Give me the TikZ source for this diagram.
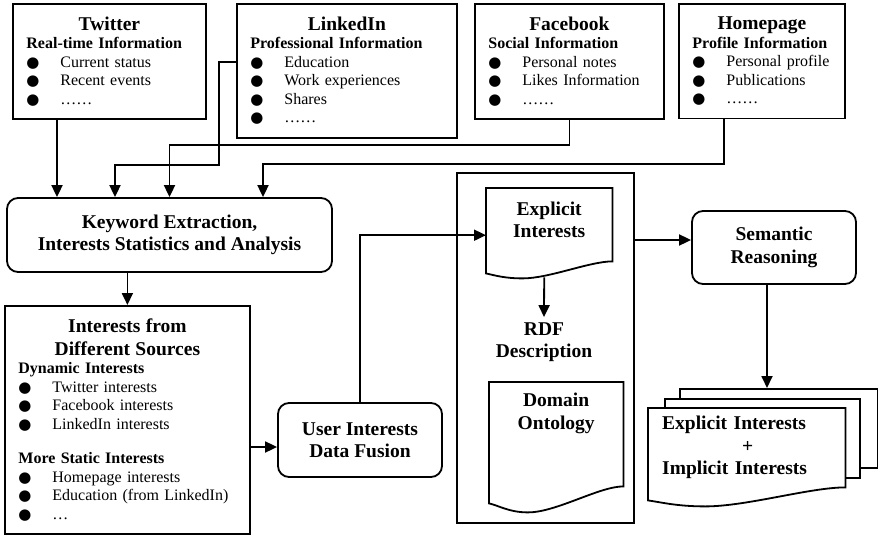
\documentclass[tikz,border=0pt]{standalone}
\usepackage{fontspec}
\setmainfont{Liberation Serif}
\newfontfamily\symfont{DejaVu Sans}
\usetikzlibrary{arrows.meta,calc}
\newcommand{\bigfont}{\fontsize{19.5}{22.5}\selectfont\bfseries}
\newcommand{\listfont}{\fontsize{16}{18.5}\selectfont}
\newcommand{\dotmark}{{\symfont\fontsize{15}{15}\selectfont ●}}
\newcommand{\itm}[1]{\makebox[34pt][l]{\dotmark}#1}
\newcommand{\srctitle}[1]{{\centering\bigfont #1\par}}
% outline of a document sheet: node, right drop, left drop, trough
\newcommand{\docoutline}[4]{%
  \draw[line width=1.8pt] (#1.north west) -- (#1.north east) -- ($(#1.south east)+(0,#2)$)
    .. controls ($(#1.south west)!0.82!(#1.south east)+(0,#2)$) and ($(#1.south west)!0.5!(#1.south east)+(0,#4)$)
    .. ($(#1.south west)!0.29!(#1.south east)+(0,#4)$)
    .. controls ($(#1.south west)!0.15!(#1.south east)+(0,#4)$) and ($(#1.south west)!0.07!(#1.south east)+(0,#3+2)$)
    .. ($(#1.south west)+(0,#3)$) -- cycle;}
\tikzset{
  srcbox/.style={
    draw, line width=1.8pt, anchor=north west, inner xsep=0pt, inner ysep=13pt,
    font=\listfont, execute at begin node={\leftskip=13.5pt}
  },
  procbox/.style={
    draw, line width=1.8pt, rounded corners=11pt, minimum width=164pt,
    minimum height=74pt, align=center, font=\bigfont
  },
  docbox/.style={anchor=north west, align=center, font=\bigfont, inner sep=0pt},
  frame/.style={draw, line width=1.8pt},
  sheet/.style={draw, fill=white, line width=1.8pt, anchor=north west, minimum height=79pt},
  arr/.style={-{Triangle[length=12pt,width=11pt]}, line width=1.8pt}
}

\begin{document}
\begin{tikzpicture}[x=1pt,y=-1pt]
  \useasboundingbox (0,0) rectangle (878,538);

  \node[srcbox, text width=193pt] (twitter) at (12,3)
    {\srctitle{Twitter}\textbf{Real-time Information}\\
     \itm{Current status}\\ \itm{Recent events}\\ \itm{……}};
  \node[srcbox, text width=220pt] (linkedin) at (236,3)
    {\srctitle{LinkedIn}\textbf{Professional Information}\\
     \itm{Education}\\ \itm{Work experiences}\\ \itm{Shares}\\ \itm{……}};
  \node[srcbox, text width=189pt] (facebook) at (474,3)
    {\srctitle{Facebook}\textbf{Social Information}\\
     \itm{Personal notes}\\ \itm{Likes Information}\\ \itm{……}};
  \node[srcbox, text width=166pt] (homepage) at (678,3)
    {\srctitle{Homepage}\textbf{Profile Information}\\
     \itm{Personal profile}\\ \itm{Publications}\\ \itm{……}};

  \node[procbox, minimum width=325pt] (keyword) at (169.5,235)
    {Keyword Extraction,\\Interests Statistics and Analysis};

  \node[srcbox, text width=245pt] (interests) at (4,305)
    {\srctitle{Interests from\\Different Sources}\textbf{Dynamic Interests}\\
     \itm{Twitter interests}\\ \itm{Facebook interests}\\ \itm{LinkedIn interests}\\[16pt]
     \textbf{More Static Interests}\\
     \itm{Homepage interests}\\ \itm{Education (from LinkedIn)}\\ \itm{…}};

  \node[procbox] (fusion) at (360,440) {User Interests\\Data Fusion};

  \node[frame, minimum width=177pt, minimum height=350pt] (store) at (545.5,348) {};
  \node[docbox, minimum width=126pt, minimum height=63pt] (expl) at (486,188) {Explicit\\Interests};
  \docoutline{expl}{10}{22}{27}
  \node[font=\bigfont, align=center, inner sep=5pt] (rdf) at (544,342) {RDF\\Description};
  \node[docbox, minimum width=134pt, minimum height=62pt] (domain) at (489,382) {Domain\\Ontology};
  \docoutline{domain}{42}{59}{68}

  \node[procbox, minimum height=73pt] (semantic) at (774,247.5) {Semantic\\Reasoning};

  \node[sheet, minimum width=198pt] (sheet3) at (679,388) {};
  \node[sheet, minimum width=195pt] (sheet2) at (664,398) {};
  \node[docbox, fill=white, minimum width=197pt, minimum height=79pt, text width=169pt,
    align=left, inner xsep=14pt] (stackfront) at (648,408)
    {Explicit Interests\\\hspace*{80pt}+\\Implicit Interests};
  \docoutline{stackfront}{0}{13}{19}

  \coordinate (kw-in1) at ([xshift=-112.5pt]keyword.north);
  \coordinate (kw-in2) at ([xshift=-54.5pt]keyword.north);
  \coordinate (kw-in4) at ([xshift=93.5pt]keyword.north);
  \draw[arr] (twitter.south -| kw-in1) -- (kw-in1);
  \draw[arr] ($(linkedin.north west)+(0,59)$) -- ++(-17,0) |- ($(kw-in2)+(0,-32)$) -- (kw-in2);
  \draw[arr] (facebook.south) |- ($(keyword.north)+(0,-52)$) -- (keyword.north);
  \draw[arr] ([xshift=-38pt]homepage.south) |- ($(kw-in4)+(0,-33)$) -- (kw-in4);
  \draw[arr] (keyword.south -| interests.north) -- (interests.north);
  \coordinate (fus-in) at ($(fusion.west)+(0,7)$);
  \draw[arr] (interests.east |- fus-in) -- (fus-in);
  \draw[arr] (fusion.north) |- ($(expl.west)+(0,15.5)$);
  \draw[arr] ($(expl.south)+(-5,26)$) -- (rdf.north);
  \coordinate (sem-in) at ($(semantic.west)+(0,-7.5)$);
  \draw[arr] (store.east |- sem-in) -- (sem-in);
  \draw[arr] ([xshift=-7pt]semantic.south) -- ([xshift=-7pt]semantic.south |- sheet3.north);
\end{tikzpicture}
\end{document}
